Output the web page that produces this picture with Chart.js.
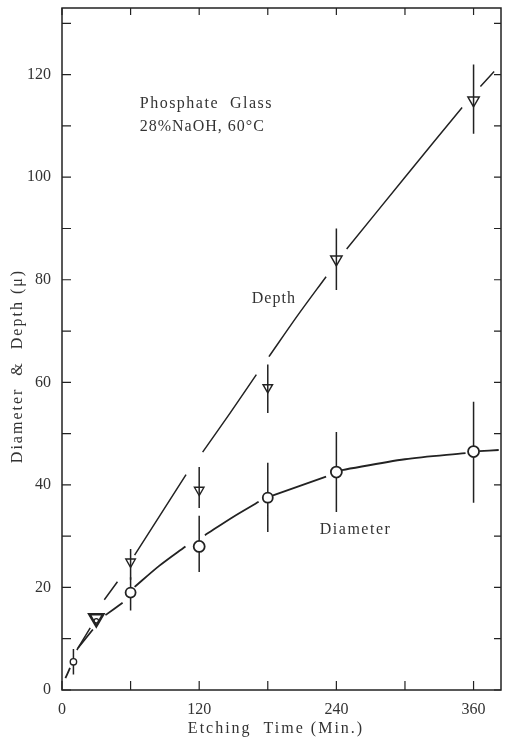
<!DOCTYPE html>
<html>
<head>
<meta charset="utf-8">
<script src="https://cdn.jsdelivr.net/npm/chart.js@4"></script>
<style>
  body { margin: 0; background: #fff; }
  #wrap { width: 505px; height: 743px; }
</style>
</head>
<body>
<div id="wrap"><canvas id="myChart" width="505" height="743"></canvas></div>
<script>
// data

// diameter points (circles)
const times = [10, 30, 60, 120, 180, 240, 360]
const diameter = [5.5, 13.5, 19, 28, 37.5, 42.5, 46.5]
const diameterLo = [3, null, 15.5, 23, 30.8, 34.7, 36.5]
const diameterHi = [8, null, 22, 34, 44.3, 50.3, 56.2]

// depth points (triangles)
const depthTimes = [30, 60, 120, 180, 240, 360]
const depth = [14, 25, 39, 59, 84, 115]
const depthLo = [null, 21.5, 35.5, 54, 78, 108.5]
const depthHi = [null, 27.5, 43.5, 63.5, 90, 122]

// hand drawn curves, null = gap in the pen line
const depthLineT = [13, 24.7, null, 37, 48.5, null, 63.5, 108.5, null, 123, 147, 170, null, 181, 206, 231, null, 249, 300, 350, null, 366, 378]
const depthLineV = [7.8, 12.1, null, 17.6, 21.1, null, 26.3, 42, null, 46.4, 54, 61.5, null, 65, 73, 80.6, null, 86, 100, 113.6, null, 117.7, 120.6]
const diamLineT = [3, 7, null, 14, 27, null, 38, 53, null, 63.5, 85, 108, null, 125, 150, 172, null, 184, 231, null, 245, 300, 353, null, 365, 382]
const diamLineV = [2.3, 4.3, null, 8.2, 11.8, null, 14.6, 17, null, 20.1, 24.2, 28, null, 30.2, 33.8, 36.7, null, 37.9, 41.6, null, 42.9, 45, 46.2, null, 46.6, 46.8]

// axes
const xTicks = [0, 60, 120, 180, 240, 300, 360]
const xLabels = [0, 120, 240, 360]
const yTicks = [0, 10, 20, 30, 40, 50, 60, 70, 80, 90, 100, 110, 120, 130]
const yLabels = [0, 20, 40, 60, 80, 100, 120]

const serif = "'Liberation Serif', 'DejaVu Serif', serif"
const ink = '#222'
const textInk = '#333'

function toPoints(xs, ys) {
  return xs.map((x, i) => (x == null ? {x: null, y: null} : {x: x, y: ys[i]}))
}

// error bars as short vertical lines, separated by breaks
function toBars(xs, lo, hi) {
  let pts = []
  xs.forEach((x, i) => {
    if (lo[i] == null) return
    pts.push({x: x, y: lo[i]}, {x: x, y: hi[i]}, {x: null, y: null})
  })
  return pts
}

// frame, inward ticks and the free text
const framePlugin = {
  id: 'frame',
  afterDraw(chart) {
    const ctx = chart.ctx
    const a = chart.chartArea
    const xs = chart.scales.x
    const ys = chart.scales.y
    ctx.save()
    ctx.strokeStyle = ink
    ctx.lineWidth = 1.5
    ctx.strokeRect(a.left, a.top, a.right - a.left, a.bottom - a.top)

    ctx.lineWidth = 1.2
    ctx.beginPath()
    xTicks.forEach(v => {
      let px = xs.getPixelForValue(v)
      ctx.moveTo(px, a.bottom); ctx.lineTo(px, a.bottom - 9)
      ctx.moveTo(px, a.top); ctx.lineTo(px, a.top + 7)
    })
    yTicks.forEach(v => {
      let py = ys.getPixelForValue(v)
      ctx.moveTo(a.left, py); ctx.lineTo(a.left + 9, py)
      ctx.moveTo(a.right, py); ctx.lineTo(a.right - 7, py)
    })
    ctx.stroke()

    ctx.fillStyle = textInk
    ctx.font = '16px ' + serif
    ctx.textAlign = 'left'
    ctx.textBaseline = 'alphabetic'
    ctx.letterSpacing = '1.5px'
    ctx.fillText('Phosphate  Glass', xs.getPixelForValue(68), ys.getPixelForValue(113.5))
    ctx.letterSpacing = '1px'
    ctx.fillText('28%NaOH, 60°C', xs.getPixelForValue(68), ys.getPixelForValue(109))
    ctx.fillText('Depth', xs.getPixelForValue(166), ys.getPixelForValue(75.5))
    ctx.letterSpacing = '1.5px'
    ctx.fillText('Diameter', xs.getPixelForValue(225.5), ys.getPixelForValue(30.5))

    // axis titles
    ctx.font = '16px ' + serif
    ctx.letterSpacing = '2px'
    ctx.textAlign = 'center'
    ctx.textBaseline = 'middle'
    ctx.fillText('Etching  Time (Min.)', 276, 729)
    ctx.translate(18, 366)
    ctx.rotate(-Math.PI / 2)
    ctx.fillText('Diameter  &  Depth (μ)', 0, 0)
    ctx.restore()
  }
}

new Chart('myChart', {
  type: 'scatter',
  data: {
    datasets: [
      {
        label: 'Depth',
        data: toPoints(depthTimes, depth),
        pointStyle: 'triangle',
        rotation: 180,
        pointRadius: [8, 5.5, 5.5, 5.5, 6.5, 6.5],
        pointBorderWidth: [2.6, 1.4, 1.4, 1.4, 1.5, 1.5],
        pointBackgroundColor: 'rgba(255,255,255,0)',
        pointBorderColor: ink,
        showLine: false,
        order: 0
      },
      {
        label: 'Diameter',
        data: toPoints(times, diameter),
        pointStyle: 'circle',
        pointRadius: [3.2, 2.2, 5, 5.5, 5, 5.5, 5.5],
        pointBorderWidth: [1.4, 1.2, 1.8, 1.8, 1.8, 1.8, 1.8],
        pointBackgroundColor: '#fff',
        pointBorderColor: ink,
        showLine: false,
        order: 1
      },
      {
        label: 'depth line',
        data: toPoints(depthLineT, depthLineV),
        showLine: true,
        spanGaps: false,
        borderColor: ink,
        borderWidth: 1.5,
        tension: 0.3,
        pointRadius: 0,
        order: 2
      },
      {
        label: 'diameter line',
        data: toPoints(diamLineT, diamLineV),
        showLine: true,
        spanGaps: false,
        borderColor: ink,
        borderWidth: 1.8,
        tension: 0.3,
        pointRadius: 0,
        order: 3
      },
      {
        label: 'depth bars',
        data: toBars(depthTimes, depthLo, depthHi),
        showLine: true,
        spanGaps: false,
        borderColor: ink,
        borderWidth: 1.5,
        pointRadius: 0,
        order: 4
      },
      {
        label: 'diameter bars',
        data: toBars(times, diameterLo, diameterHi),
        showLine: true,
        spanGaps: false,
        borderColor: ink,
        borderWidth: 1.5,
        pointRadius: 0,
        order: 5
      }
    ]
  },
  options: {
    responsive: false,
    animation: false,
    layout: { autoPadding: false, padding: { top: 8, right: 4, left: 0, bottom: 0 } },
    plugins: {
      legend: { display: false },
      tooltip: { enabled: false }
    },
    scales: {
      x: {
        type: 'linear',
        min: 0,
        max: 384,
        grid: { display: false },
        border: { display: false },
        afterBuildTicks: s => { s.ticks = xTicks.map(v => ({value: v})) },
        afterFit: s => {
          s.height = 53
          s.paddingLeft = 0
          s.paddingRight = 0
        },
        ticks: {
          autoSkip: false,
          maxRotation: 0,
          padding: 2,
          color: textInk,
          font: { family: serif, size: 16 },
          callback: v => (xLabels.includes(v) ? String(v) : '')
        }
      },
      y: {
        type: 'linear',
        min: 0,
        max: 133,
        grid: { display: false },
        border: { display: false },
        afterBuildTicks: s => { s.ticks = yTicks.map(v => ({value: v})) },
        afterFit: s => {
          s.width = 62
          s.paddingTop = 0
          s.paddingBottom = 0
        },
        ticks: {
          autoSkip: false,
          padding: 3,
          color: textInk,
          font: { family: serif, size: 16 },
          callback: v => (yLabels.includes(v) ? String(v) : '')
        }
      }
    }
  },
  plugins: [framePlugin]
})
</script>
</body>
</html>
